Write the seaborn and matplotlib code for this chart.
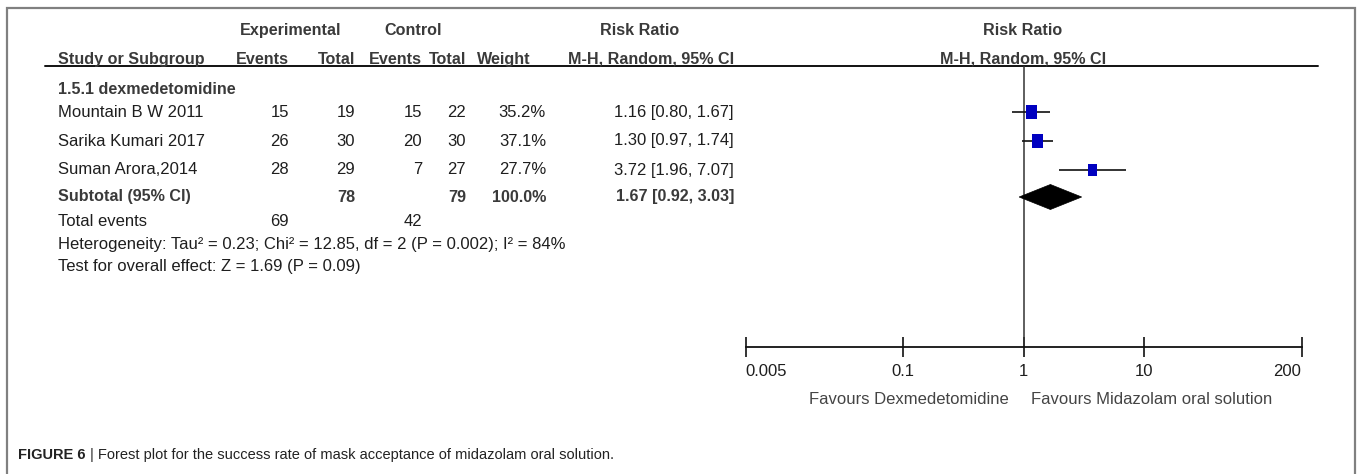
import matplotlib
matplotlib.use("Agg")
import matplotlib.pyplot as plt
import seaborn as sns
import pandas as pd
from matplotlib.patches import Polygon

# ---- data ---------------------------------------------------------------
studies = ["Mountain B W 2011", "Sarika Kumari 2017", "Suman Arora,2014"]
exp_events = [15, 26, 28]
exp_total = [19, 30, 29]
ctrl_events = [15, 20, 7]
ctrl_total = [22, 30, 27]
weights = [35.2, 37.1, 27.7]
rr = [1.16, 1.30, 3.72]
rr_low = [0.80, 0.97, 1.96]
rr_high = [1.67, 1.74, 7.07]

subgroup = "1.5.1 dexmedetomidine"
pooled_rr = 1.67
pooled_low = 0.92
pooled_high = 3.03
sum_exp_total = 78
sum_ctrl_total = 79
sum_weight = 100.0
sum_exp_events = 69
sum_ctrl_events = 42
heterogeneity = "Heterogeneity: Tau² = 0.23; Chi² = 12.85, df = 2 (P = 0.002); I² = 84%"
overall = "Test for overall effect: Z = 1.69 (P = 0.09)"

tick_values = [0.005, 0.1, 1, 10, 200]
tick_labels = ["0.005", "0.1", "1", "10", "200"]
favours_left = "Favours Dexmedetomidine"
favours_right = "Favours Midazolam oral solution"
caption_head = "FIGURE 6"
caption_body = "Forest plot for the success rate of mask acceptance of midazolam oral solution."

# ---- style ----------------------------------------------------------------
sns.set_theme(style="white")
plt.rcParams["font.family"] = ["Liberation Sans", "DejaVu Sans"]

W, H = 1357, 474
fig = plt.figure(figsize=(W / 100, H / 100), dpi=100)
fig.patch.set_facecolor("white")

# background axes in pixel units (origin top-left) for the table text
bg = fig.add_axes([0, 0, 1, 1])
bg.set_xlim(0, W)
bg.set_ylim(H, 0)
bg.axis("off")

TXT = "#1e1e1e"
HDR = "#3a3a3a"
FS = 12      # regular table text
FB = 11.6    # bold table text

# frame
bg.plot([7, 7, 1355, 1355], [H + 5, 8, 8, H + 5], color="#808080", lw=1.6,
        solid_joinstyle="miter", clip_on=False)

# row layout (pixel rows)
y_h1, y_h2, y_line = 30, 59, 66
y_group = 89
y_rows = [112, 141, 170]
y_sub = 197
y_tot = 221
y_het = 244
y_test = 267

x_name = 58
x_ee, x_et, x_ce, x_ct, x_w, x_rr = 289, 355, 422, 466, 546, 734
x_forest_c = 1023

# header
bg.text(291, y_h1, "Experimental", ha="center", va="center",
        fontsize=FB, fontweight="bold", color=HDR)
bg.text(413, y_h1, "Control", ha="center", va="center",
        fontsize=FB, fontweight="bold", color=HDR)
bg.text(640, y_h1, "Risk Ratio", ha="center", va="center",
        fontsize=FB, fontweight="bold", color=HDR)
bg.text(x_forest_c, y_h1, "Risk Ratio", ha="center", va="center",
        fontsize=FB, fontweight="bold", color=HDR)

bg.text(x_name, y_h2, "Study or Subgroup", ha="left", va="center",
        fontsize=FB, fontweight="bold", color=HDR)
for x, lab in [(x_ee, "Events"), (x_et, "Total"), (x_ce, "Events"),
               (x_ct, "Total"), (531, "Weight"), (x_rr, "M-H, Random, 95% CI")]:
    bg.text(x, y_h2, lab, ha="right", va="center", fontsize=FB,
            fontweight="bold", color=HDR)
bg.text(x_forest_c, y_h2, "M-H, Random, 95% CI", ha="center", va="center",
        fontsize=FB, fontweight="bold", color=HDR)
bg.plot([45, 1318], [y_line, y_line], color="#111111", lw=1.4)

# subgroup title
bg.text(x_name, y_group, subgroup, ha="left", va="center", fontsize=FB,
        fontweight="bold", color=HDR)

# study rows
for i, name in enumerate(studies):
    y = y_rows[i]
    bg.text(x_name, y, name, ha="left", va="center", fontsize=FS, color=TXT)
    bg.text(x_ee, y, f"{exp_events[i]}", ha="right", va="center", fontsize=FS, color=TXT)
    bg.text(x_et, y, f"{exp_total[i]}", ha="right", va="center", fontsize=FS, color=TXT)
    bg.text(x_ce, y, f"{ctrl_events[i]}", ha="right", va="center", fontsize=FS, color=TXT)
    bg.text(x_ct, y, f"{ctrl_total[i]}", ha="right", va="center", fontsize=FS, color=TXT)
    bg.text(x_w, y, f"{weights[i]:.1f}%", ha="right", va="center", fontsize=FS, color=TXT)
    bg.text(x_rr, y, f"{rr[i]:.2f} [{rr_low[i]:.2f}, {rr_high[i]:.2f}]",
            ha="right", va="center", fontsize=FS, color=TXT)

# subtotal row
bg.text(x_name, y_sub, "Subtotal (95% CI)", ha="left", va="center",
        fontsize=FB, fontweight="bold", color=HDR)
bg.text(x_et, y_sub, f"{sum_exp_total}", ha="right", va="center",
        fontsize=FB, fontweight="bold", color=HDR)
bg.text(x_ct, y_sub, f"{sum_ctrl_total}", ha="right", va="center",
        fontsize=FB, fontweight="bold", color=HDR)
bg.text(x_w, y_sub, f"{sum_weight:.1f}%", ha="right", va="center",
        fontsize=FB, fontweight="bold", color=HDR)
bg.text(x_rr, y_sub, f"{pooled_rr:.2f} [{pooled_low:.2f}, {pooled_high:.2f}]",
        ha="right", va="center", fontsize=FB, fontweight="bold", color=HDR)

bg.text(x_name, y_tot, "Total events", ha="left", va="center", fontsize=FS, color=TXT)
bg.text(x_ee, y_tot, f"{sum_exp_events}", ha="right", va="center", fontsize=FS, color=TXT)
bg.text(x_ce, y_tot, f"{sum_ctrl_events}", ha="right", va="center", fontsize=FS, color=TXT)
bg.text(x_name, y_het, heterogeneity, ha="left", va="center", fontsize=FS, color=TXT)
bg.text(x_name, y_test, overall, ha="left", va="center", fontsize=FS, color=TXT)

# ---- forest panel ----------------------------------------------------------
x0, x1 = 745.5, 1301.5       # pixel extent of the log axis
yt, yb = y_line, 347          # pixel extent of the plotting area
ax = fig.add_axes([x0 / W, 1 - yb / H, (x1 - x0) / W, (yb - yt) / H])
ax.set_facecolor("none")
ax.set_xscale("log")
ax.set_xlim(tick_values[0], tick_values[-1])
ax.set_ylim(yb, yt)

ax.axvline(1, color="#333333", lw=1.1, zorder=1)

df = pd.DataFrame({"study": studies, "rr": rr, "low": rr_low, "high": rr_high,
                   "weight": weights, "y": y_rows})
ax.hlines(df["y"], df["low"], df["high"], color="#111111", lw=1.2, zorder=2)

box = [(-0.38, -0.5), (0.38, -0.5), (0.38, 0.5), (-0.38, 0.5), (-0.38, -0.5)]
sns.scatterplot(data=df, x="rr", y="y", size="weight", sizes=(0, 115),
                size_norm=(0, 40), marker=box, color="#0000c0",
                edgecolor="none", linewidth=0, legend=False, ax=ax, zorder=3)

half_h = 12.5
diamond = Polygon([(pooled_low, y_sub), (pooled_rr, y_sub - half_h),
                   (pooled_high, y_sub), (pooled_rr, y_sub + half_h)],
                  closed=True, facecolor="black", edgecolor="black", lw=0.5, zorder=3)
ax.add_patch(diamond)

for s in ["top", "left", "right"]:
    ax.spines[s].set_visible(False)
ax.spines["bottom"].set_color("#111111")
ax.spines["bottom"].set_linewidth(1.3)
ax.set_yticks([])
ax.set_xticks(tick_values)
ax.set_xticklabels(tick_labels)
ax.minorticks_off()
ax.tick_params(axis="x", direction="inout", length=14, width=1.2,
               colors="#111111", labelsize=FS, pad=5, bottom=True)
for lab, ha in zip(ax.get_xticklabels(), ["left", "center", "center", "center", "right"]):
    lab.set_horizontalalignment(ha)
    lab.set_color(TXT)
ax.set_xlabel("")
ax.set_ylabel("")

bg.text(1009, 399, favours_left, ha="right", va="center", fontsize=FS, color="#444444")
bg.text(1031, 399, favours_right, ha="left", va="center", fontsize=FS, color="#444444")

# caption: bold label followed by the description
cap = bg.text(18, 455, caption_head, ha="left", va="center", fontsize=10.5,
              fontweight="bold", color="#222222")
bg.annotate(" | " + caption_body, xy=(1, 0.5), xycoords=cap, ha="left",
            va="center", fontsize=10.5, color="#222222")

fig.savefig("out.png", dpi=100, facecolor="white")
